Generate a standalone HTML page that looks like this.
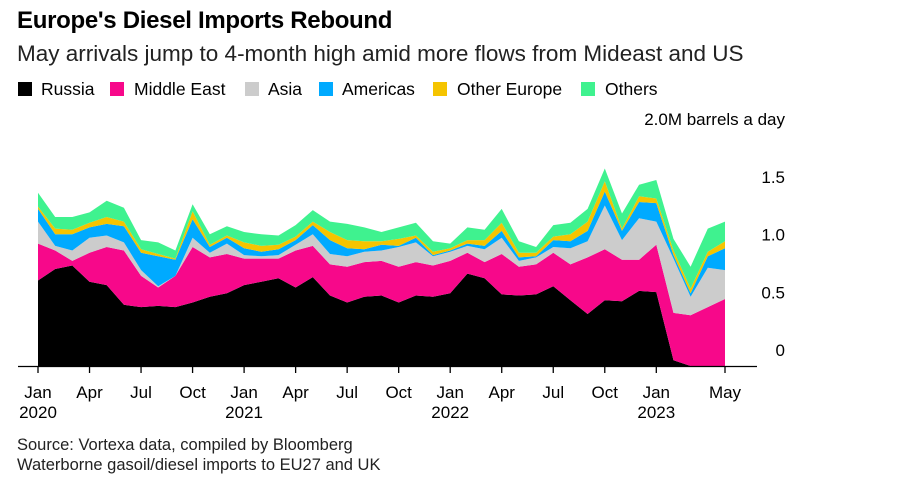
<!DOCTYPE html>
<html><head><meta charset="utf-8"><style>
body{margin:0;background:#fff;font-family:"Liberation Sans",sans-serif;}
#wrap{position:relative;width:921px;height:484px;overflow:hidden;}
.t{position:absolute;white-space:nowrap;color:#000;}
.sw{position:absolute;width:14px;height:14px;top:82px;}
</style></head><body>
<div id="wrap">
<div class="t" style="left:17px;top:7px;font-size:24px;font-weight:bold;letter-spacing:-0.3px">Europe's Diesel Imports Rebound</div>
<div class="t" style="left:17px;top:41px;font-size:22.5px;color:#222">May arrivals jump to 4-month high amid more flows from Mideast and US</div>
<div>
<div class="sw" style="left:18px;background:#000"></div><div class="t" style="left:41px;top:79px;font-size:17.5px">Russia</div>
<div class="sw" style="left:110px;background:#f7088a"></div><div class="t" style="left:134px;top:79px;font-size:17.5px">Middle East</div>
<div class="sw" style="left:245px;background:#cccccc"></div><div class="t" style="left:268px;top:79px;font-size:17.5px">Asia</div>
<div class="sw" style="left:319px;background:#00aaff"></div><div class="t" style="left:342px;top:79px;font-size:17.5px">Americas</div>
<div class="sw" style="left:433px;background:#f5c400"></div><div class="t" style="left:457px;top:79px;font-size:17.5px">Other Europe</div>
<div class="sw" style="left:581px;background:#3ff28f"></div><div class="t" style="left:605px;top:79px;font-size:17.5px">Others</div>
</div>
<svg id="chart" width="921" height="484" style="position:absolute;left:0;top:0"></svg>
<div class="t" style="left:17px;top:436px;font-size:16.5px;color:#222">Source: Vortexa data, compiled by Bloomberg</div>
<div class="t" style="left:17px;top:456px;font-size:16.5px;color:#222">Waterborne gasoil/diesel imports to EU27 and UK</div>
</div>
<script>
const russia=[.74,.84,.87,.73,.70,.53,.51,.52,.51,.55,.60,.63,.70,.73,.76,.68,.77,.61,.55,.60,.61,.55,.61,.60,.63,.80,.76,.62,.61,.62,.69,.57,.45,.57,.56,.65,.64,.05,0,0,0];
const middleEast=[.32,.16,.04,.25,.33,.47,.27,.16,.27,.48,.34,.34,.23,.20,.17,.32,.27,.27,.31,.30,.30,.31,.29,.27,.28,.18,.14,.35,.25,.26,.29,.31,.49,.44,.36,.27,.41,.41,.44,.51,.58];
const asia=[.19,.04,.09,.13,.10,.07,.05,.01,0,.08,.04,.09,.03,.02,.03,.05,.10,.09,.09,.09,.09,.17,.17,.08,.08,.06,.11,.14,.05,.06,.05,.14,.14,.38,.17,.36,.20,.47,.16,.34,.25];
const americas=[.11,.10,.14,.09,.10,.14,.15,.26,.14,.16,.05,.05,.06,.04,.05,.04,.08,.12,.07,.02,.05,.01,.04,.01,.01,.02,.03,.06,.03,.01,.06,.06,.09,.12,.08,.14,.16,.03,.03,.10,.19];
const otherEurope=[.02,.05,.04,.04,.06,.04,.03,.02,.01,.07,.02,.02,.05,.05,.04,.03,.03,.07,.07,.07,.03,.06,.02,.03,.02,.03,.05,.07,.04,.03,.03,.06,.08,.09,.02,.05,.04,.04,.04,.04,.06];
const others=[.12,.10,.11,.09,.14,.12,.08,.10,.07,.06,.09,.08,.09,.10,.08,.10,.10,.09,.14,.12,.08,.10,.11,.09,.04,.11,.09,.12,.10,.05,.10,.10,.11,.11,.13,.10,.16,.10,.19,.20,.17];
const yTicks=[0,0.5,1.0,1.5,2.0];
const yTickLabels=["0","0.5","1.0","1.5","2.0M barrels a day"];
const xLabels=[["Jan","2020"],["Apr",""],["Jul",""],["Oct",""],["Jan","2021"],["Apr",""],["Jul",""],["Oct",""],["Jan","2022"],["Apr",""],["Jul",""],["Oct",""],["Jan","2023"],["May",""]];
const xLabelMonths=[0,3,6,9,12,15,18,21,24,27,30,33,36,40];
const series=[russia,middleEast,asia,americas,otherEurope,others];
const names=["russia","middle-east","asia","americas","other-europe","others"];
const colors=["#000000","#f7088a","#cccccc","#00aaff","#f5c400","#3ff28f"];
const NS="http://www.w3.org/2000/svg";
const svg=document.getElementById('chart');
const x=i=>38+i*(687/40);
const y=v=>366-v*115.5;
const n=russia.length;
let base=new Array(n).fill(0);
series.forEach((s,k)=>{
  const top=base.map((b,i)=>b+s[i]);
  let d="";
  for(let i=0;i<n;i++) d+=(i?"L":"M")+x(i).toFixed(1)+","+y(top[i]).toFixed(1);
  for(let i=n-1;i>=0;i--) d+="L"+x(i).toFixed(1)+","+y(base[i]).toFixed(1);
  d+="Z";
  const p=document.createElementNS(NS,'path');
  p.setAttribute('d',d);p.setAttribute('fill',colors[k]);
  
  
  svg.appendChild(p);
  base=top;
});
const ax=document.createElementNS(NS,'line');
ax.setAttribute('x1',18);ax.setAttribute('x2',757);ax.setAttribute('y1',366.5);ax.setAttribute('y2',366.5);
ax.setAttribute('stroke','#000');ax.setAttribute('stroke-width',1.3);


svg.appendChild(ax);
xLabelMonths.forEach((m,j)=>{
  const t=document.createElementNS(NS,'line');
  t.setAttribute('x1',x(m));t.setAttribute('x2',x(m));t.setAttribute('y1',367);t.setAttribute('y2',373);
  t.setAttribute('stroke','#000');t.setAttribute('stroke-width',1.3);
  
  
  svg.appendChild(t);
  xLabels[j].forEach((s,r)=>{
    if(!s)return;
    const tx=document.createElementNS(NS,'text');
    tx.setAttribute('x',x(m));tx.setAttribute('y',398+r*20);tx.setAttribute('text-anchor','middle');
    tx.setAttribute('font-size','17');tx.setAttribute('font-family','Liberation Sans, sans-serif');
    tx.textContent=s;
    
    
    svg.appendChild(tx);
  });
});
yTicks.forEach((v,j)=>{
  const tx=document.createElementNS(NS,'text');
  tx.setAttribute('x',785);tx.setAttribute('y',y(v)-10);tx.setAttribute('text-anchor','end');
  tx.setAttribute('font-size','17');tx.setAttribute('font-family','Liberation Sans, sans-serif');
  tx.textContent=yTickLabels[j];
  
  
  svg.appendChild(tx);
});
</script>
</body></html>
